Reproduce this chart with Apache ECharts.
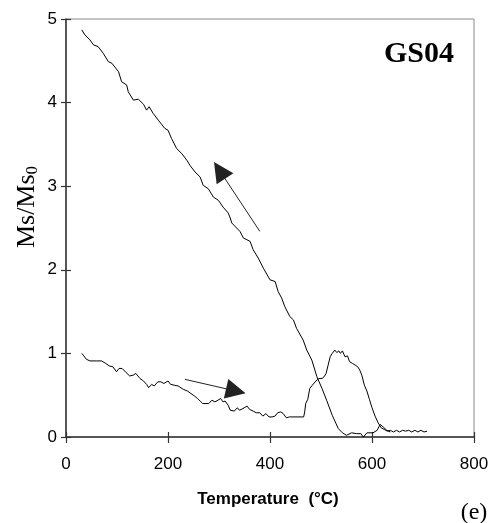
<!DOCTYPE html>
<html>
<head>
<meta charset="utf-8">
<script src="https://cdn.jsdelivr.net/npm/echarts@6/dist/echarts.min.js"></script>
<style>html,body{margin:0;padding:0;background:#fff}#c{width:493px;height:523px}</style>
</head>
<body>
<div id="c"></div>
<script>
// Heating curve (lower, starts at 1)
var heatT = [31,35,40,47,60,70,78,85,92,99,104,110,118,125,132,137,145,152,158,162,168,173,180,186,192,200,205,212,220,230,238,245,252,258,263,268,280,286,292,298,303,308,312,318,322,330,336,340,347,355,360,367,373,380,386,392,398,404,410,415,421,426,432,438,445,455,466,468,470,474,478,483,490,496,502,506,510,514,518,522,527,531,535,538,542,547,552,556,562,567,572,576,580,585,590,595,600,606,612,618,624,630,636,642,648,654,660,666,672,678,684,690,696,702,708];
var heatV = [1.00,0.97,0.93,0.91,0.91,0.91,0.88,0.85,0.84,0.78,0.82,0.82,0.77,0.73,0.74,0.76,0.70,0.67,0.63,0.59,0.63,0.61,0.66,0.66,0.64,0.67,0.63,0.62,0.61,0.57,0.55,0.52,0.49,0.46,0.43,0.40,0.40,0.44,0.42,0.44,0.46,0.42,0.43,0.38,0.32,0.31,0.35,0.32,0.34,0.37,0.33,0.31,0.29,0.29,0.25,0.28,0.24,0.24,0.25,0.29,0.30,0.28,0.23,0.24,0.24,0.24,0.24,0.30,0.40,0.45,0.58,0.62,0.67,0.70,0.70,0.72,0.76,0.86,0.96,1.00,1.04,1.01,1.03,1.00,1.03,0.96,0.97,0.90,0.88,0.86,0.84,0.80,0.74,0.62,0.55,0.45,0.35,0.25,0.17,0.11,0.09,0.07,0.08,0.06,0.08,0.06,0.08,0.07,0.08,0.06,0.08,0.06,0.08,0.06,0.07];
// Cooling curve (upper, starts near 4.9)
var coolT = [31,37,47,54,63,73,83,90,103,109,119,122,132,142,152,158,163,171,181,194,200,207,217,227,237,243,253,263,269,279,289,299,308,318,322,325,341,348,361,367,377,387,400,410,416,423,429,439,446,452,465,472,482,492,502,511,522,534,542,550,560,570,578,583,590,602,610,616,622,629,636];
var coolV = [4.87,4.81,4.75,4.69,4.67,4.59,4.49,4.47,4.37,4.25,4.21,4.13,4.03,4.04,3.98,3.91,3.95,3.87,3.79,3.69,3.67,3.57,3.45,3.39,3.31,3.25,3.17,3.11,3.01,2.97,2.87,2.83,2.75,2.68,2.62,2.56,2.46,2.38,2.34,2.24,2.14,2.02,1.88,1.86,1.74,1.66,1.56,1.44,1.40,1.30,1.16,1.04,0.92,0.72,0.58,0.44,0.26,0.10,0.05,0.02,0.05,0.04,0.04,0.00,0.05,0.05,0.08,0.15,0.12,0.08,0.06];
// Arrow annotations: [tail, head] in data units
var arrowCool = [[380, 2.46], [301, 3.19]];
var arrowHeat = [[233, 0.69], [333, 0.55]];
var yTicks = ['0','1','2','3','4','5'];

function pairs(t, v){ var out=[]; for (var i=0;i<t.length;i++) out.push([t[i], v[i]]); return out; }

var chart = echarts.init(document.getElementById('c'), null, {renderer:'canvas'});
var axisFont = {fontFamily:'Liberation Sans, Arial, sans-serif', fontSize:17, color:'#000'};
var option = {
  animation:false,
  grid:{left:66, right:19, top:19, bottom:86, show:true, borderColor:'#8a8a8a', borderWidth:1},
  xAxis:[
    {type:'value', min:0, max:800, interval:200,
     axisLine:{show:true, lineStyle:{color:'#333', width:1.5}},
     axisTick:{show:true, inside:false, length:6, lineStyle:{color:'#333', width:1.2}},
     axisLabel:Object.assign({margin:19}, axisFont),
     splitLine:{show:false}},
    {type:'value', min:0, max:800, interval:200, position:'bottom',
     axisLine:{show:false},
     axisTick:{show:true, inside:true, length:5, lineStyle:{color:'#333', width:1.2}},
     axisLabel:{show:false}, splitLine:{show:false}}
  ],
  yAxis:[
    {type:'value', min:0, max:5, interval:1,
     axisLine:{show:true, lineStyle:{color:'#333', width:1.5}},
     axisTick:{show:true, inside:false, length:5, lineStyle:{color:'#333', width:1.2}},
     axisLabel:Object.assign({margin:9, formatter:function(v){return yTicks[Math.round(v)];}}, axisFont),
     splitLine:{show:false}},
    {type:'value', min:0, max:5, interval:1, position:'left',
     axisLine:{show:false},
     axisTick:{show:true, inside:true, length:5, lineStyle:{color:'#333', width:1.2}},
     axisLabel:{show:false}, splitLine:{show:false}}
  ],
  series:[
    {type:'line', data:pairs(coolT, coolV), showSymbol:false, xAxisIndex:0, yAxisIndex:0,
     lineStyle:{color:'#000', width:1}, silent:true,
     markLine:{silent:true, symbol:['none','triangle'], symbolSize:20,
       label:{show:false}, lineStyle:{color:'#222', width:1, type:'solid'},
       data:[[{coord:arrowCool[0]},{coord:arrowCool[1]}],[{coord:arrowHeat[0]},{coord:arrowHeat[1]}]],
       itemStyle:{color:'#000'}}},
    {type:'line', data:pairs(heatT, heatV), showSymbol:false, xAxisIndex:0, yAxisIndex:0,
     lineStyle:{color:'#000', width:1}, silent:true}
  ],
  graphic:[
    {type:'text', x:27, y:207, rotation:Math.PI/2, silent:true,
     style:{text:'{m|Ms/Ms}{s|0}', align:'center', verticalAlign:'middle',
       rich:{m:{fontFamily:'Liberation Serif, Times New Roman, serif', fontSize:26, fill:'#000'},
             s:{fontFamily:'Liberation Serif, Times New Roman, serif', fontSize:17, fill:'#000', padding:[11,0,0,0]}}}},
    {type:'text', x:419, y:54, silent:true,
     style:{text:'GS04', align:'center', verticalAlign:'middle', fontFamily:'Liberation Serif, Times New Roman, serif', fontWeight:'bold', fontSize:30, fill:'#000'}},
    {type:'text', x:268, y:499, silent:true,
     style:{text:'Temperature  (°C)', align:'center', verticalAlign:'middle', fontFamily:'Liberation Sans, Arial, sans-serif', fontWeight:'bold', fontSize:17, fill:'#000'}},
    {type:'text', x:474, y:513, silent:true,
     style:{text:'(e)', align:'center', verticalAlign:'middle', fontFamily:'Liberation Serif, Times New Roman, serif', fontSize:24, fill:'#000'}}
  ]
};
chart.setOption(option);
</script>
</body>
</html>
